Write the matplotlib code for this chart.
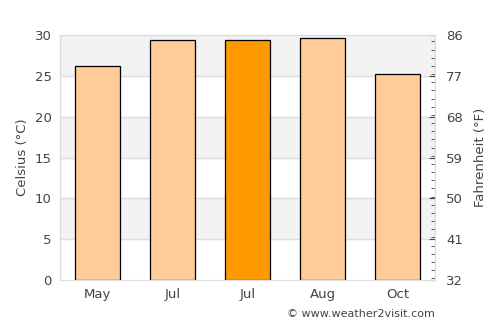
import matplotlib
matplotlib.use("Agg")
import matplotlib.pyplot as plt
from matplotlib.ticker import MultipleLocator

# monthly average temperature (Celsius)
months = ["May", "Jul", "Jul", "Aug", "Oct"]
temps_c = [26.2, 29.4, 29.4, 29.7, 25.2]
highlight = 2  # index of the darker bar

fahr_ticks = [32, 41, 50, 59, 68, 77, 86]

text_color = "#444444"
fig = plt.figure(figsize=(5, 3.25), dpi=100)
ax = fig.add_axes([0.12, 0.138, 0.75, 0.754])

# alternating background bands + grid lines
for lo in range(5, 30, 10):
    ax.axhspan(lo, lo + 5, color="#f2f2f2", zorder=0)
for y in range(5, 30, 5):
    ax.axhline(y, color="#dddddd", lw=1, zorder=1)

colors = ["#ffcc99"] * len(months)
colors[highlight] = "#ff9900"
ax.bar(range(len(months)), temps_c, width=0.6, color=colors,
       edgecolor="black", linewidth=0.9, zorder=2)

ax.set_xlim(-0.5, len(months) - 0.5)
ax.set_ylim(0, 30)
ax.set_xticks(range(len(months)))
ax.set_xticklabels(months)
ax.set_yticks(range(0, 31, 5))
ax.tick_params(axis="both", length=0, colors=text_color, labelsize=9.5, pad=6)
ax.set_ylabel("Celsius (°C)", color=text_color, fontsize=9.5)
for s in ax.spines.values():
    s.set_color("#dddddd")

# fahrenheit axis on the right
ax2 = ax.twinx()
ax2.set_ylim(32, 86)
ax2.set_yticks(fahr_ticks)
ax2.yaxis.set_minor_locator(MultipleLocator(1.8))
ax2.tick_params(axis="y", which="major", direction="in", length=4,
                colors=text_color, labelsize=9.5, pad=8)
ax2.tick_params(axis="y", which="minor", direction="in", length=3, color="#444444")
ax2.tick_params(axis="y", which="major", color="#444444")
ax2.set_ylabel("Fahrenheit (°F)", color=text_color, fontsize=9.5, labelpad=8)
for s in ax2.spines.values():
    s.set_color("#dddddd")

fig.text(0.87, 0.035, "© www.weather2visit.com", ha="right", va="center",
         fontsize=8, color=text_color)

fig.savefig("out.png", dpi=100)
